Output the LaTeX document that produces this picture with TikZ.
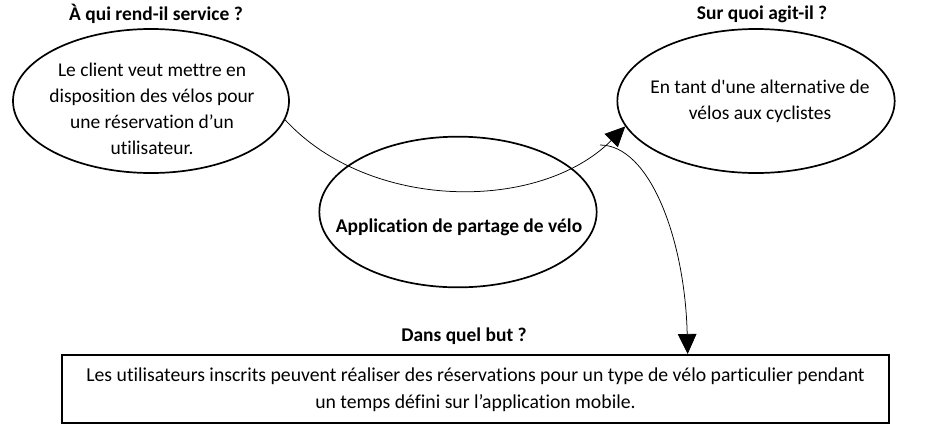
\documentclass[tikz,border=0pt]{standalone}
\usepackage{fontspec}
\setmainfont{Carlito}[Ligatures={TeXOff, NoCommon}]
\usepackage{tikz}
\usetikzlibrary{shapes.geometric, arrows.meta, calc}
\tikzset{
	bulle/.style={draw, ellipse, line width=0.45mm, inner sep=0pt},
	cadre/.style={draw, rectangle, line width=0.55mm, inner sep=0pt},
	texte/.style={align=center, font=\fontsize{14.6}{19.5}\selectfont},
	titre/.style={font=\fontsize{14.6}{17}\selectfont\bfseries},
	fleche/.style={line width=0.2mm, -{Triangle[length=15pt, width=14pt]}}
}

\begin{document}
\begin{tikzpicture}[x=0.75pt, y=-0.75pt]
	\useasboundingbox (0,0) rectangle (937,447);
	
	% les trois questions
	\node[titre] (qui) at (156,14) {À qui rend-il service ?};
	\node[titre] (quoi) at (762,14) {Sur quoi agit-il ?};
	\node[titre] (pourquoi) at (464,336) {Dans quel but ?};
	
	% les bulles
	\node[bulle, minimum width=207pt, minimum height=108pt] (client) at (151,101) {};
	\node[texte] (clienttxt) at (152,109) {Le client veut mettre en\\disposition des vélos pour\\une réservation d’un\\utilisateur.};
	\node[bulle, minimum width=208pt, minimum height=108pt] (cible) at (756,101) {};
	\node[texte] (cibletxt) at (760,101) {En tant d'une alternative de\\vélos aux cyclistes};
	\node[bulle, minimum width=208pt, minimum height=113pt] (appli) at (458,212) {};
	\node[titre] (applitxt) at (459,227) {Application de partage de vélo};
	
	% le but
	\node[cadre, minimum width=620pt, minimum height=51pt] (but) at (475.5,389) {};
	\node[texte, font=\fontsize{14.8}{20}\selectfont] (buttxt) at (475.5,390) {Les utilisateurs inscrits peuvent réaliser des réservations pour un type de vélo particulier pendant\\un temps défini sur l’application mobile.};
	
	% les liens
	\coordinate (depart) at (600,145);
	\draw[fleche] (client.-8) .. controls (370,212) and (540,212) .. (cible.191);
	\draw[fleche] (depart) .. controls (650,145) and (685,240) .. ($(but.north west)!0.756!(but.north east)$);
	
\end{tikzpicture}
\end{document}
